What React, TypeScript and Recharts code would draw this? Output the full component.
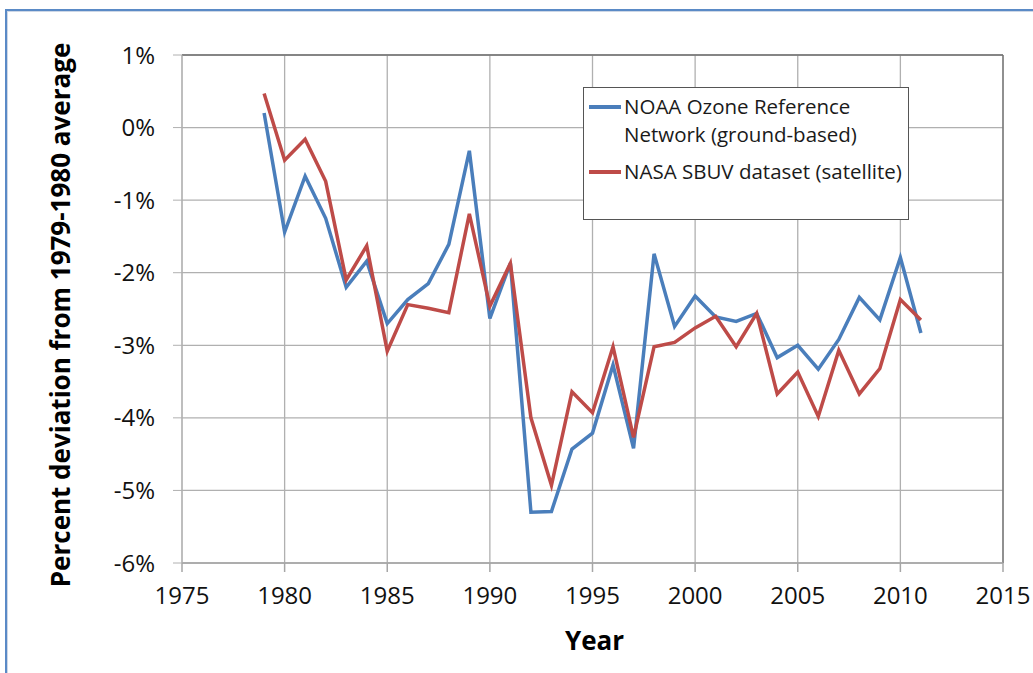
import React from 'react';
import { LineChart, Line, XAxis, YAxis, CartesianGrid, Legend, ReferenceLine } from 'recharts';

const years = [
  1979, 1980, 1981, 1982, 1983, 1984, 1985, 1986, 1987, 1988, 1989, 1990, 1991, 1992, 1993, 1994, 1995,
  1996, 1997, 1998, 1999, 2000, 2001, 2002, 2003, 2004, 2005, 2006, 2007, 2008, 2009, 2010, 2011,
];

// NOAA Ozone Reference Network (ground-based)
const noaa = [
  0.2, -1.44, -0.67, -1.25, -2.2, -1.84, -2.7, -2.37, -2.15, -1.61, -0.32, -2.63, -1.87, -5.3, -5.29, -4.43,
  -4.21, -3.27, -4.42, -1.74, -2.74, -2.32, -2.61, -2.67, -2.56, -3.17, -3.0, -3.33, -2.92, -2.34, -2.65,
  -1.79, -2.83,
];

// NASA SBUV dataset (satellite)
const nasa = [
  0.47, -0.45, -0.16, -0.74, -2.1, -1.63, -3.08, -2.44, -2.49, -2.55, -1.19, -2.46, -1.87, -4.0, -4.93, -3.64,
  -3.93, -3.02, -4.27, -3.02, -2.96, -2.76, -2.6, -3.02, -2.56, -3.67, -3.37, -3.98, -3.07, -3.67, -3.32,
  -2.37, -2.65,
];

const seriesKeys = ['noaa', 'nasa'];
const seriesNames = ['NOAA Ozone Reference\nNetwork (ground-based)', 'NASA SBUV dataset (satellite)'];
const xTicks = [1975, 1980, 1985, 1990, 1995, 2000, 2005, 2010, 2015];
const yTicks = [-6, -5, -4, -3, -2, -1, 0, 1];

const data = years.map((year, i) => ({ year, noaa: noaa[i], nasa: nasa[i] }));

const FONT = '"Open Sans", "Noto Sans", sans-serif';

const renderLegend = (props: any) => {
  // keep the order of the series as drawn, not alphabetical
  const items = [...(props.payload || [])].sort(
    (a: any, b: any) => seriesKeys.indexOf(a.dataKey) - seriesKeys.indexOf(b.dataKey)
  );
  return (
    <div
      style={{
        border: '1.5px solid #555',
        background: '#fff',
        padding: '4px 4px 34px 5px',
        fontFamily: FONT,
        fontSize: 20.5,
        color: '#1a1a1a',
        width: 315,
      }}
    >
      {items.map((entry: any, i: number) => (
        <div key={i} style={{ display: 'flex', alignItems: 'flex-start', marginTop: i === 0 ? 0 : 9 }}>
          <div style={{ width: 32, height: 3.5, background: entry.color, marginTop: 13, marginRight: 3, flexShrink: 0 }} />
          <div style={{ whiteSpace: 'pre-line', lineHeight: '28px' }}>{entry.value}</div>
        </div>
      ))}
    </div>
  );
};

const YTitle = (props: any) => {
  const vb = props.viewBox;
  const cy = vb.y + vb.height / 2 + 6;
  return (
    <text
      x={60}
      y={cy}
      transform={`rotate(-90, 60, ${cy})`}
      textAnchor="middle"
      dominantBaseline="central"
      style={{ fontFamily: FONT, fontSize: 26, fontWeight: 700, fill: '#000' }}
    >
      Percent deviation from 1979-1980 average
    </text>
  );
};

const XTitle = (props: any) => {
  const vb = props.viewBox;
  return (
    <text
      x={vb.x + vb.width / 2 + 2}
      y={vb.y + 87}
      textAnchor="middle"
      style={{ fontFamily: FONT, fontSize: 26, fontWeight: 700, fill: '#000' }}
    >
      Year
    </text>
  );
};

const App: React.FC = () => {
  return (
    <div style={{ position: 'absolute', left: 0, top: 0, width: 1033, height: 673, background: '#fff', overflow: 'hidden' }}>
      <div
        style={{
          position: 'absolute',
          left: 5,
          top: 9,
          right: -10,
          bottom: -10,
          borderTop: '2px solid #5a8ac6',
          borderLeft: '2px solid #5a8ac6',
        }}
      >
        <div style={{ position: 'absolute', left: 0, top: 0, right: 0, bottom: 0, borderTop: '1px solid #cdd7e6', borderLeft: '1px solid #cdd7e6' }} />
      </div>
      <div style={{ position: 'absolute', left: 0, top: 0 }}>
        <LineChart width={1033} height={673} data={data} margin={{ top: 55, right: 30, bottom: 50, left: 112 }}>
          <CartesianGrid stroke="#b0b0b0" strokeWidth={1.3} />
          <XAxis
            dataKey="year"
            type="number"
            domain={[1975, 2015]}
            ticks={xTicks}
            interval={0}
            height={60}
            tickSize={9}
            tickMargin={15}
            stroke="#a6a6a6"
            strokeWidth={1.5}
            tick={{ fontFamily: FONT, fontSize: 24, fill: '#111' }}
            label={<XTitle />}
          />
          <YAxis
            type="number"
            domain={[-6, 1]}
            ticks={yTicks}
            interval={0}
            width={70}
            tickSize={9}
            tickMargin={18}
            stroke="#b0b0b0"
            tickFormatter={(v: number) => `${v}%`}
            tick={{ fontFamily: FONT, fontSize: 24, fill: '#111' }}
            label={<YTitle />}
          />
          <ReferenceLine y={1} stroke="#707070" strokeWidth={1.3} />
          <ReferenceLine x={2015} stroke="#707070" strokeWidth={1.3} />
          <Legend
            content={renderLegend}
            layout="vertical"
            verticalAlign="middle"
            align="center"
            wrapperStyle={{ position: 'absolute', left: 583, top: 87, width: 326 }}
          />
          <Line
            type="linear"
            dataKey="noaa"
            name={seriesNames[0]}
            stroke="#4a7ebb"
            strokeWidth={3.5}
            dot={false}
            isAnimationActive={false}
          />
          <Line
            type="linear"
            dataKey="nasa"
            name={seriesNames[1]}
            stroke="#be4b48"
            strokeWidth={3.5}
            dot={false}
            isAnimationActive={false}
          />
        </LineChart>
      </div>
    </div>
  );
};

export default App;
